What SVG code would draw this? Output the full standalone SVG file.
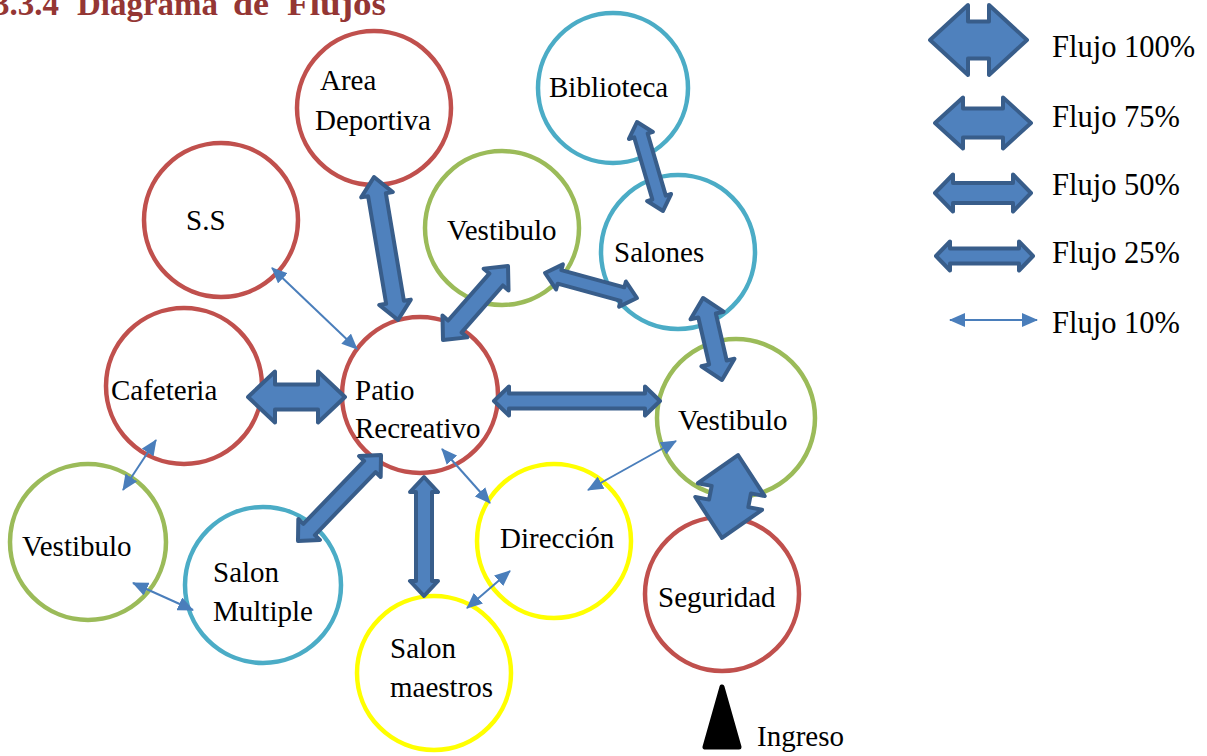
<svg xmlns="http://www.w3.org/2000/svg" width="1207" height="756" viewBox="0 0 1207 756">
<defs>
<style>
.t{font-family:"Liberation Serif","Times New Roman",serif;font-size:29px;fill:#000}
.lg{font-family:"Liberation Serif","Times New Roman",serif;font-size:30.5px;fill:#000}
.ttl{font-family:"Liberation Serif","Times New Roman",serif;font-size:33px;font-weight:bold;fill:#943634}
.c{fill:none;stroke-width:4.5}
.red{stroke:#C0504D}.grn{stroke:#9BBB59}.blu{stroke:#4BACC6}.yel{stroke:#FFFF00}
.ba{fill:#4F81BD;stroke:#385D8A;stroke-width:4;stroke-linejoin:round}
.th{fill:none;stroke:#4A7EBB;stroke-width:2;marker-start:url(#ah);marker-end:url(#ah)}
</style>
<marker id="ah" viewBox="0 0 16 14" refX="15" refY="7" markerWidth="16" markerHeight="14" markerUnits="userSpaceOnUse" orient="auto-start-reverse">
<path d="M0,0 L16,7 L0,14 Z" fill="#4A7EBB"/>
</marker>
</defs>
<rect width="1207" height="756" fill="#fff"/>
<g id="title">
<text class="ttl" x="-7" y="15">3.3.4</text>
<text class="ttl" x="77" y="15" textLength="141" lengthAdjust="spacingAndGlyphs">Diagrama</text>
<text class="ttl" x="233" y="15" textLength="36" lengthAdjust="spacingAndGlyphs">de</text>
<text class="ttl" x="287" y="15" textLength="99" lengthAdjust="spacingAndGlyphs">Flujos</text>
</g>

<g id="area-deportiva"><circle class="c red" cx="374" cy="108" r="77"/><text class="t"><tspan x="320" y="90">Area</tspan><tspan x="315" y="130">Deportiva</tspan></text></g>
<g id="ss"><circle class="c red" cx="221" cy="220" r="77"/><text class="t" x="186" y="230">S.S</text></g>
<g id="cafeteria"><circle class="c red" cx="184" cy="386" r="78"/><text class="t" x="111" y="400">Cafeteria</text></g>
<g id="patio"><circle class="c red" cx="420" cy="395" r="78"/><text class="t"><tspan x="355" y="400">Patio</tspan><tspan x="355" y="438">Recreativo</tspan></text></g>
<g id="biblioteca"><circle class="c blu" cx="613" cy="88" r="75"/><text class="t" x="549" y="97">Biblioteca</text></g>
<g id="vestibulo-top"><circle class="c grn" cx="502" cy="228" r="77"/><text class="t" x="447" y="240">Vestibulo</text></g>
<g id="salones"><circle class="c blu" cx="678" cy="252" r="77"/><text class="t" x="614" y="262">Salones</text></g>
<g id="vestibulo-right"><circle class="c grn" cx="736" cy="418" r="79"/><text class="t" x="678" y="430">Vestibulo</text></g>
<g id="vestibulo-left"><circle class="c grn" cx="88" cy="542" r="78"/><text class="t" x="22" y="556">Vestibulo</text></g>
<g id="salon-multiple"><circle class="c blu" cx="263" cy="585" r="78"/><text class="t"><tspan x="213" y="582">Salon</tspan><tspan x="213" y="621">Multiple</tspan></text></g>
<g id="direccion"><circle class="c yel" cx="554" cy="541" r="77"/><text class="t" x="500" y="548">Dirección</text></g>
<g id="salon-maestros"><circle class="c yel" cx="434" cy="673" r="77"/><text class="t"><tspan x="390" y="658">Salon</tspan><tspan x="390" y="697">maestros</tspan></text></g>
<g id="seguridad"><circle class="c red" cx="722" cy="594" r="77"/><text class="t" x="658" y="607">Seguridad</text></g>
<g id="ingreso"><polygon points="722,687 705,747 739,747" fill="#000" stroke="#000" stroke-width="5" stroke-linejoin="round"/><text class="t" x="757" y="746">Ingreso</text></g>

<g id="connectors">
<path class="ba" transform="translate(386,248.5) rotate(80.47)" d="M-72.5,0 L-54.5,-16 L-54.5,-9 L54.5,-9 L54.5,-16 L72.5,0 L54.5,16 L54.5,9 L-54.5,9 L-54.5,16 Z"/>
<path class="ba" transform="translate(475.5,303) rotate(-48.7)" d="M-49.25,0 L-31.25,-16.5 L-31.25,-9 L31.25,-9 L31.25,-16.5 L49.25,0 L31.25,16.5 L31.25,9 L-31.25,9 L-31.25,16.5 Z"/>
<path class="ba" transform="translate(591,285.5) rotate(15.2)" d="M-47.65,0 L-32.65,-13 L-32.65,-7 L32.65,-7 L32.65,-13 L47.65,0 L32.65,13 L32.65,7 L-32.65,7 L-32.65,13 Z"/>
<path class="ba" transform="translate(650,166.5) rotate(73.7)" d="M-46.35,0 L-32.35,-12.5 L-32.35,-7 L32.35,-7 L32.35,-12.5 L46.35,0 L32.35,12.5 L32.35,7 L-32.35,7 L-32.35,12.5 Z"/>
<path class="ba" transform="translate(712.5,339) rotate(77)" d="M-42.1,0 L-24.1,-17 L-24.1,-9 L24.1,-9 L24.1,-17 L42.1,0 L24.1,17 L24.1,9 L-24.1,9 L-24.1,17 Z"/>
<path class="ba" d="M248,397 L275,371.5 L275,384.5 L318,384.5 L318,371.5 L345,397 L318,422.5 L318,409.5 L275,409.5 L275,422.5 Z"/>
<path class="ba" d="M494,401 L509,386.5 L509,393.5 L645,393.5 L645,386.5 L660,401 L645,415.5 L645,408.5 L509,408.5 L509,415.5 Z"/>
<path class="ba" transform="translate(339.5,498) rotate(134)" d="M-59.75,0 L-43.75,-15 L-43.75,-8 L43.75,-8 L43.75,-15 L59.75,0 L43.75,15 L43.75,8 L-43.75,8 L-43.75,15 Z"/>
<path class="ba" d="M424,477 L438,492 L432,492 L432,581 L438,581 L424,596 L410,581 L416,581 L416,492 L410,492 Z"/>
<path class="ba" transform="translate(730,496.5) rotate(100.9)" d="M-42.25,0 L-7,-34 L-7,-20 L7,-20 L7,-34 L42.25,0 L7,34 L7,20 L-7,20 L-7,34 Z"/>
<line class="th" x1="272" y1="268" x2="357" y2="349"/>
<line class="th" x1="156" y1="440" x2="123" y2="490"/>
<line class="th" x1="133" y1="583" x2="193" y2="610"/>
<line class="th" x1="442" y1="449" x2="490" y2="503"/>
<line class="th" x1="676" y1="441" x2="588" y2="490"/>
<line class="th" x1="510" y1="571" x2="467" y2="608"/>
</g>

<g id="legend">
<path class="ba" d="M930,40 L968,5 L968,21.5 L989,21.5 L989,5 L1027,40 L989,75 L989,58.5 L968,58.5 L968,75 Z"/>
<text class="lg" x="1052" y="57">Flujo 100%</text>
<path class="ba" d="M935,123 L963,97.5 L963,108.5 L1003,108.5 L1003,97.5 L1031,123 L1003,148.5 L1003,137.5 L963,137.5 L963,148.5 Z"/>
<text class="lg" x="1052" y="127">Flujo 75%</text>
<path class="ba" d="M935,193 L953,174.5 L953,183 L1013,183 L1013,174.5 L1031,193 L1013,211.5 L1013,203 L953,203 L953,211.5 Z"/>
<text class="lg" x="1052" y="195">Flujo 50%</text>
<path class="ba" d="M936,256 L950,241.5 L950,248.5 L1019,248.5 L1019,241.5 L1033,256 L1019,270.5 L1019,263.5 L950,263.5 L950,270.5 Z"/>
<text class="lg" x="1052" y="263">Flujo 25%</text>
<line class="th" x1="950" y1="320" x2="1037" y2="320"/>
<text class="lg" x="1052" y="333">Flujo 10%</text>
</g>
</svg>
